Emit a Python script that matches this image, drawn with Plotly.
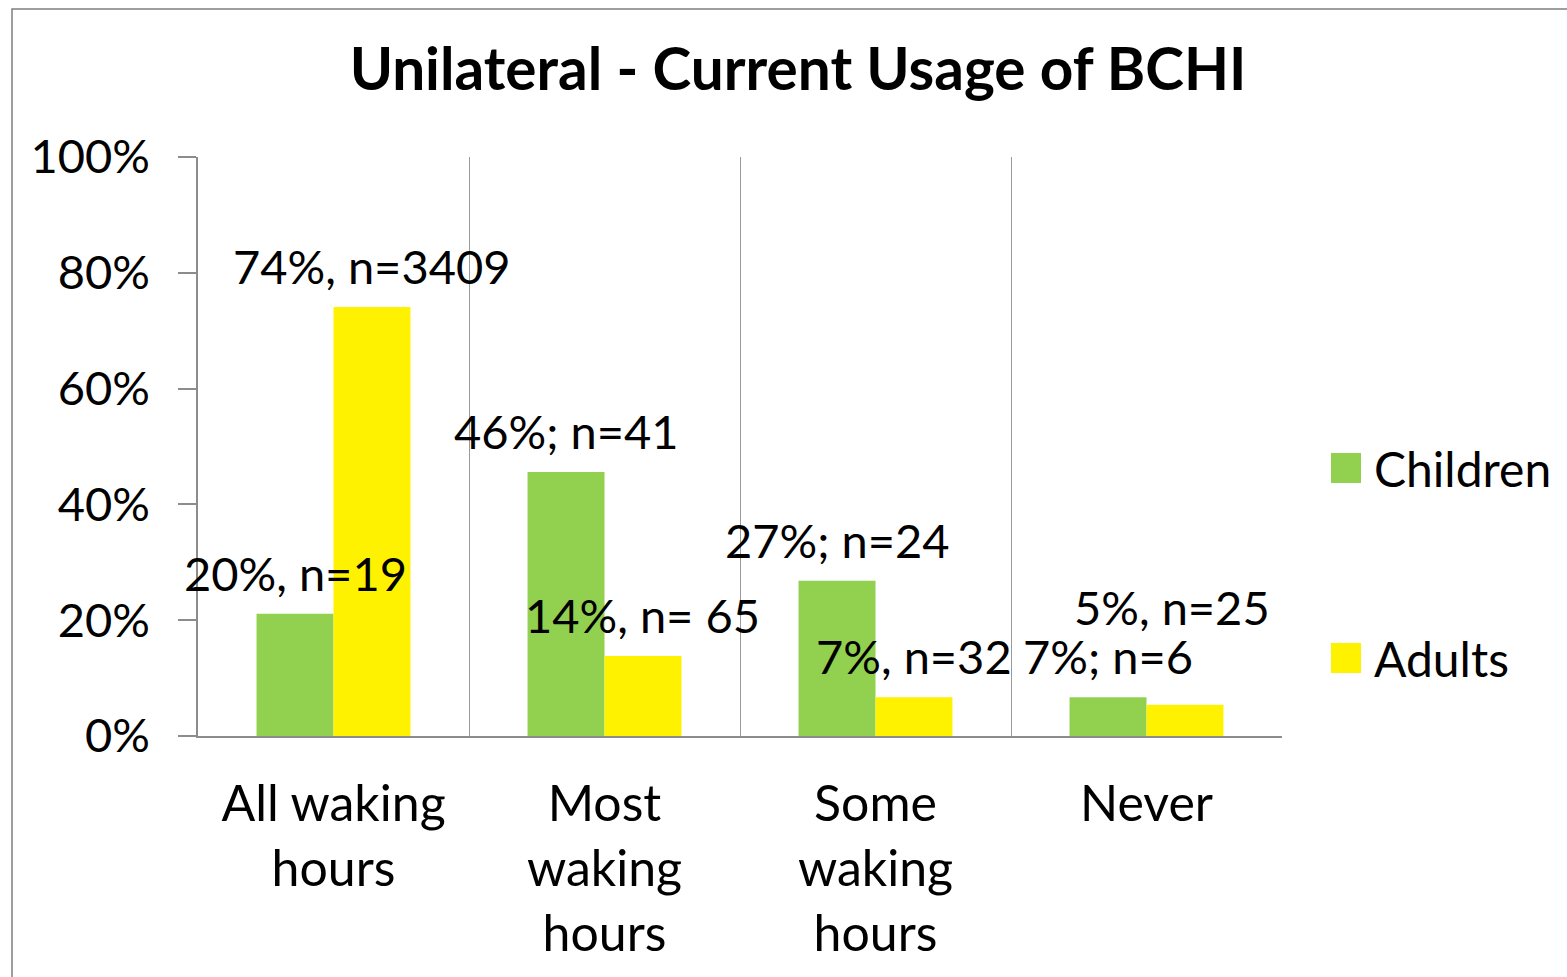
import plotly.graph_objects as go

categories = ["All waking<br>hours", "Most<br>waking<br>hours", "Some<br>waking<br>hours", "Never"]
series_names = ["Children", "Adults"]
children = [0.211, 0.456, 0.268, 0.067]
adults = [0.741, 0.138, 0.067, 0.054]
children_labels = ["20%, n=19", "46%; n=41", "27%; n=24", "7%; n=6"]
adults_labels = ["74%, n=3409", "14%, n= 65", "7%, n=32", "5%, n=25"]
y_ticks = [0, 0.2, 0.4, 0.6, 0.8, 1.0]
y_ticktext = ["0%", "20%", "40%", "60%", "80%", "100%"]

COLORS = ["#92D050", "#FFF200"]
FONT = "Lato"
W, H = 1567, 977
L, R, T, B = 198, 1282, 157, 736   # plot area in pixels
BARGAP = 0.432

# label nudges (px) for manually placed Excel labels: (series, category) -> (dx, dy)
NUDGE = {(1, 3): (-13, 57)}


def px_x(p):
    return (p - L) / (R - L)


def px_y(p):
    return (B - p) / (B - T)


fig = go.Figure()
for name, vals, col in zip(series_names, [children, adults], COLORS):
    fig.add_trace(go.Bar(x=categories, y=vals, name=name, marker=dict(color=col, line=dict(width=0)),
                         showlegend=False))

annotations = []
half = (1 - BARGAP) / 2
for j, (vals, labels) in enumerate([(children, children_labels), (adults, adults_labels)]):
    for i, (v, t) in enumerate(zip(vals, labels)):
        dx, dy = NUDGE.get((j, i), (0, 0))
        annotations.append(dict(x=i + (j - 0.5) * half, y=v, xref="x", yref="y", text=t,
                                showarrow=False, yanchor="middle", xanchor="center",
                                xshift=dx, yshift=41 + dy,
                                font=dict(family=FONT, size=47, color="black")))

# legend drawn by hand to get Excel-size swatches
shapes = []
for k, (name, col) in enumerate(zip(series_names, COLORS)):
    cy = [468, 658][k]
    shapes.append(dict(type="rect", xref="paper", yref="paper",
                       x0=px_x(1331), x1=px_x(1361), y0=px_y(cy + 15), y1=px_y(cy - 15),
                       fillcolor=col, line=dict(width=0)))
    annotations.append(dict(x=px_x(1372), y=px_y(cy), xref="paper", yref="paper", text=name,
                            showarrow=False, xanchor="left", yanchor="middle",
                            font=dict(family=FONT, size=48, color="black")))

# chart border
shapes.append(dict(type="rect", xref="paper", yref="paper",
                   x0=px_x(12), x1=px_x(W + 20), y0=px_y(H + 20), y1=px_y(9),
                   line=dict(color="#7f7f7f", width=1.5), layer="below"))

fig.update_layout(
    width=W, height=H,
    margin=dict(l=L, r=W - R, t=T, b=H - B, autoexpand=False),
    paper_bgcolor="white", plot_bgcolor="white",
    barmode="group", bargap=BARGAP, bargroupgap=0,
    title=dict(text="<b>Unilateral - Current Usage of BCHI</b>", x=798 / W, xref="container",
               xanchor="center", y=1 - 70 / H, yref="container", yanchor="middle",
               font=dict(family=FONT, size=58.5, color="black")),
    font=dict(family=FONT, size=48, color="black"),
    annotations=annotations, shapes=shapes,
    xaxis=dict(type="category", range=[-0.5, 3.5], tickson="boundaries", showgrid=True,
               gridcolor="#9a9a9a", gridwidth=1, showline=True, linecolor="#8c8c8c",
               linewidth=1.5, ticks="", ticklabelstandoff=23,
               tickfont=dict(family=FONT, size=50)),
    yaxis=dict(range=[0, 1], tickvals=y_ticks, ticktext=y_ticktext, showgrid=False,
               showline=True, linecolor="#8c8c8c", linewidth=1.5, zeroline=False,
               ticks="outside", ticklen=18, tickcolor="#8c8c8c", tickwidth=1.5,
               ticklabelstandoff=19, tickfont=dict(family=FONT, size=47)),
)

fig.write_html("out.html", config={"displayModeBar": False},
               post_script="document.body.style.margin = '0';")
